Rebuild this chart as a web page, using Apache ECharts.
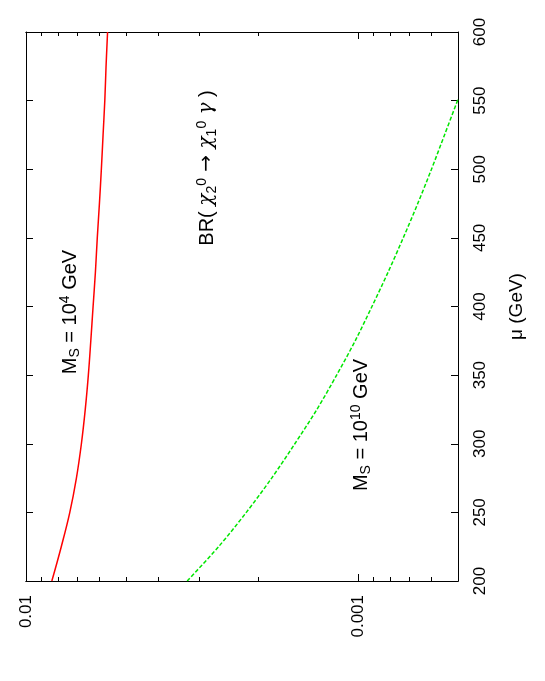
<!DOCTYPE html>
<html>
<head>
<meta charset="utf-8">
<script src="https://cdn.jsdelivr.net/npm/echarts@6/dist/echarts.min.js"></script>
<style>
html,body{margin:0;padding:0;background:#fff;}
#main{width:545px;height:681px;}
</style>
</head>
<body>
<div id="main"></div>
<script>
// mu (GeV) values
var mu = [200, 225, 250, 275, 300, 325, 350, 375, 400, 425, 450, 475, 500, 525, 550, 575, 600];
// BR for M_S = 10^4 GeV (red)
var brRed = [0.00836, 0.00783, 0.00738, 0.00705, 0.00681, 0.00663, 0.00649, 0.00638, 0.00628, 0.00618, 0.00610, 0.00601, 0.00593, 0.00586, 0.00579, 0.00574, 0.00568];
// BR for M_S = 10^10 GeV (green), leaves the frame near 551
var muGreen = [200, 225, 250, 275, 300, 325, 350, 375, 400, 425, 450, 475, 500, 525, 551];
var brGreen = [0.00327, 0.00263, 0.00217, 0.00182, 0.00155, 0.00133, 0.00116, 0.00102, 0.000908, 0.000812, 0.000731, 0.000661, 0.000601, 0.000549, 0.000500];
var brMajor = [0.01, 0.001];
var brMinor = [0.009, 0.008, 0.007, 0.006, 0.005, 0.004, 0.003, 0.002, 0.0009, 0.0008, 0.0007, 0.0006, 0.0005];

var chart = echarts.init(document.getElementById('main'));
var FONT = 'Liberation Sans';
var lineCol = '#000';

function pairs(xs, ys){
	var out = [];
	for (var i = 0; i < xs.length; i++) out.push([ys[i], xs[i]]);
	return out;
}

function logAxis(pos, ticks, len, labels){
	return {
		type: 'log', position: pos, min: 0.0005, max: 0.01, inverse: true,
		axisLine: {show: true, onZero: false, lineStyle: {color: lineCol, width: 1}},
		axisTick: {show: true, inside: true, length: len, customValues: ticks, lineStyle: {color: lineCol}},
		axisLabel: labels ? {show: true, customValues: brMajor, rotate: 90, margin: 14, fontSize: 17, fontFamily: FONT, color: '#000',
			formatter: function(v){ return v >= 0.005 ? '0.01' : '0.001'; }} : {show: false},
		splitLine: {show: false}
	};
}

// rich text styles for the rotated annotations
var rich = {
	m: {fontSize: 20, fontFamily: FONT, lineHeight: 24, color: '#000'},
	g: {fontSize: 20, fontFamily: 'DejaVu Serif', fontStyle: 'italic', lineHeight: 24, color: '#000'},
	ar: {fontSize: 20, fontFamily: 'DejaVu Sans', lineHeight: 24, color: '#000'},
	sub: {fontSize: 14, fontFamily: FONT, verticalAlign: 'bottom', lineHeight: 12, color: '#000'},
	sup: {fontSize: 14, fontFamily: FONT, verticalAlign: 'top', lineHeight: 12, color: '#000'}
};

var option = {
	animation: false,
	grid: {left: 26, right: 87, top: 32, bottom: 100},
	xAxis: [
		logAxis('bottom', brMajor, 7, true),
		logAxis('bottom', brMinor, 4, false),
		logAxis('top', brMajor, 7, false),
		logAxis('top', brMinor, 4, false)
	],
	yAxis: [
		{type: 'value', position: 'right', min: 200, max: 600, interval: 50,
			name: 'μ (GeV)', nameLocation: 'middle', nameRotate: 90, nameGap: 49,
			nameTextStyle: {fontSize: 19, fontFamily: FONT, color: '#000'},
			axisLine: {show: true, lineStyle: {color: lineCol, width: 1}},
			axisTick: {show: true, inside: true, length: 7, lineStyle: {color: lineCol}},
			axisLabel: {rotate: 90, margin: 14, fontSize: 17, fontFamily: FONT, color: '#000'},
			splitLine: {show: false}},
		{type: 'value', position: 'left', min: 200, max: 600, interval: 50,
			axisLine: {show: true, lineStyle: {color: lineCol, width: 1}},
			axisTick: {show: true, inside: true, length: 7, lineStyle: {color: lineCol}},
			axisLabel: {show: false},
			splitLine: {show: false}}
	],
	series: [
		{type: 'line', xAxisIndex: 0, yAxisIndex: 0, data: pairs(mu, brRed), smooth: 0.4, showSymbol: false,
			lineStyle: {color: '#ff0000', width: 1.5}},
		{type: 'line', xAxisIndex: 0, yAxisIndex: 0, data: pairs(muGreen, brGreen), smooth: 0.3, showSymbol: false,
			lineStyle: {color: '#00e600', width: 1.5, type: [4, 2]}}
	],
	graphic: [
		{type: 'text', x: 70, y: 312, rotation: Math.PI / 2,
			style: {text: '{m|M}{sub|S}{m| = 10}{sup|4}{m| GeV}', align: 'center', verticalAlign: 'middle', rich: rich}},
		{type: 'text', x: 207, y: 168, rotation: Math.PI / 2,
			style: {text: '{m|BR( }{g|χ}{sub|2}{sup|0}{ar| → }{g|χ}{sub|1}{sup|0}{g| γ}{m| )}', align: 'center', verticalAlign: 'middle', rich: rich}},
		{type: 'text', x: 361, y: 425, rotation: Math.PI / 2,
			style: {text: '{m|M}{sub|S}{m| = 10}{sup|10}{m| GeV}', align: 'center', verticalAlign: 'middle', rich: rich}}
	]
};
chart.setOption(option);
</script>
</body>
</html>
